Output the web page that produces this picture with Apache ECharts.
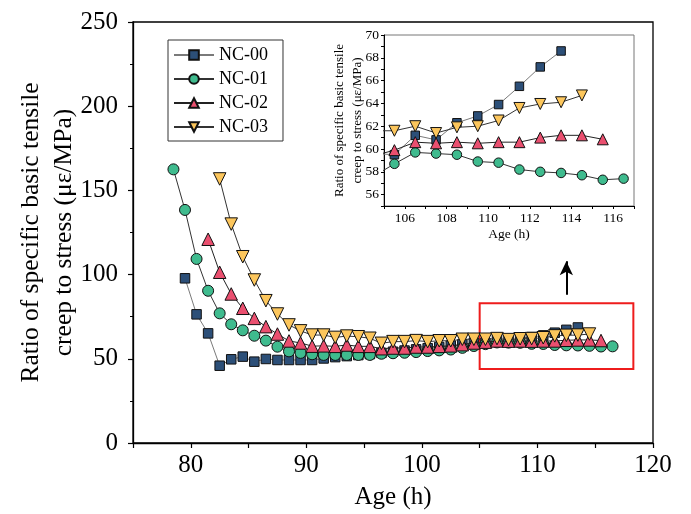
<!DOCTYPE html>
<html>
<head>
<meta charset="utf-8">
<script src="https://cdn.jsdelivr.net/npm/echarts@6/dist/echarts.min.js"></script>
<style>
  html, body { margin: 0; padding: 0; background: #fff; }
  #chart { width: 691px; height: 514px; }
</style>
</head>
<body>
<div id="chart"></div>
<script>
// Creep-to-stress ratio (με/MPa) against concrete age (h), four mixes.
const seriesNames = ['NC-00', 'NC-01', 'NC-02', 'NC-03'];

const ageNC00 = [79.5, 80.5, 81.5, 82.5, 83.5, 84.5, 85.5, 86.5, 87.5, 88.5, 89.5, 90.5, 91.5, 92.5, 93.5, 94.5, 95.5, 96.5,
  97.5, 98.5, 99.5, 100.5, 101.5, 102.5, 103.5, 104.5, 105.5, 106.5, 107.5, 108.5, 109.5, 110.5, 111.5, 112.5, 113.5];
const valNC00 = [97.8, 76.4, 65.1, 45.9, 49.7, 51.3, 48.3, 49.9, 49.3, 49.3, 49.3, 49.3, 50.2, 51.0, 51.6, 52.2, 52.8, 53.5,
  54.2, 54.9, 55.6, 56.3, 57.0, 57.8, 58.6, 59.6, 59.5, 61.2, 60.8, 62.3, 62.9, 63.9, 65.5, 67.2, 68.6];

const ageNC01 = [78.5, 79.5, 80.5, 81.5, 82.5, 83.5, 84.5, 85.5, 86.5, 87.5, 88.5, 89.5, 90.5, 91.5, 92.5, 93.5, 94.5, 95.5,
  96.5, 97.5, 98.5, 99.5, 100.5, 101.5, 102.5, 103.5, 104.5, 105.5, 106.5, 107.5, 108.5, 109.5, 110.5, 111.5, 112.5, 113.5,
  114.5, 115.5, 116.5];
const valNC01 = [162.5, 138.4, 109.3, 90.4, 77.0, 70.5, 66.9, 63.7, 60.8, 57.2, 54.4, 53.5, 52.7, 52.3, 52.3, 52.3, 52.3, 52.3,
  53.0, 53.3, 53.6, 54.0, 54.6, 55.0, 55.5, 56.5, 57.6, 58.7, 59.7, 59.6, 59.5, 58.9, 58.8, 58.2, 58.0, 57.9,
  57.7, 57.3, 57.4];

const ageNC02 = [81.5, 82.5, 83.5, 84.5, 85.5, 86.5, 87.5, 88.5, 89.5, 90.5, 91.5, 92.5, 93.5, 94.5, 95.5, 96.5, 97.5, 98.5,
  99.5, 100.5, 101.5, 102.5, 103.5, 104.5, 105.5, 106.5, 107.5, 108.5, 109.5, 110.5, 111.5, 112.5, 113.5, 114.5, 115.5];
const valNC02 = [121.0, 101.4, 88.5, 80.0, 74.0, 69.1, 64.7, 60.6, 59.4, 57.5, 57.7, 57.4, 58.2, 57.4, 57.4, 56.0, 56.4, 56.4,
  57.0, 57.0, 57.4, 57.7, 58.4, 59.4, 59.9, 60.6, 60.5, 60.6, 60.5, 60.6, 60.6, 61.0, 61.2, 61.2, 60.85];

const ageNC03 = [82.5, 83.5, 84.5, 85.5, 86.5, 87.5, 88.5, 89.5, 90.5, 91.5, 92.5, 93.5, 94.5, 95.5, 96.5, 97.5, 98.5,
  99.5, 100.5, 101.5, 102.5, 103.5, 104.5, 105.5, 106.5, 107.5, 108.5, 109.5, 110.5, 111.5, 112.5, 113.5, 114.5];
const valNC03 = [156.8, 130.0, 110.6, 96.8, 84.5, 76.6, 70.1, 66.6, 64.1, 64.1, 62.7, 63.5, 63.1, 62.2, 59.2, 60.2, 60.2,
  60.8, 60.2, 60.7, 60.7, 61.6, 61.6, 61.6, 62.0, 61.4, 61.9, 62.0, 62.5, 63.6, 63.95, 64.1, 64.7];

// Region enlarged in the inset (age h, ratio) and the pointer above it
const zoomBoxFrom = [105, 44];
const zoomBoxTo = [118.3, 83];
const pointerFrom = [112.5, 88];
const pointerTo = [112.5, 108];

const ages = [ageNC00, ageNC01, ageNC02, ageNC03];
const values = [valNC00, valNC01, valNC02, valNC03];

const FONT = '"Liberation Serif", "Times New Roman", serif';
const styles = [
  { fill: '#2c4f78', line: '#7a7a7a', symbol: 'rect', rotate: 0, size: 9.5, insetSize: 8.5 },
  { fill: '#3fbb8e', line: '#333333', symbol: 'circle', rotate: 0, size: 11, insetSize: 9.5 },
  { fill: '#ea4f6f', line: '#222222', symbol: 'triangle', rotate: 0, size: 12.5, insetSize: 11 },
  { fill: '#fcc65c', line: '#333333', symbol: 'triangle', rotate: 180, size: 12.5, insetSize: 11 }
];

function pairs(i) {
  return ages[i].map((a, k) => [a, values[i][k]]);
}

function makeSeries(i, inset) {
  const st = styles[i];
  const s = {
    name: seriesNames[i],
    type: 'line',
    xAxisIndex: inset ? 1 : 0,
    yAxisIndex: inset ? 1 : 0,
    data: pairs(i),
    symbol: st.symbol,
    symbolRotate: st.rotate,
    symbolSize: inset ? st.insetSize : st.size,
    showAllSymbol: true,
    clip: true,
    lineStyle: { color: st.line, width: 1 },
    itemStyle: { color: st.fill, borderColor: '#111', borderWidth: 1 },
    emphasis: { disabled: true },
    animation: false,
    z: 3 + i
  };
  if (!inset && i === 1) {
    s.markArea = {
      silent: true,
      itemStyle: { color: 'rgba(0,0,0,0)', borderColor: '#ee1c1c', borderWidth: 2 },
      label: { show: false },
      data: [[{ coord: zoomBoxFrom }, { coord: zoomBoxTo }]]
    };
    s.markLine = {
      silent: true,
      symbol: ['none', 'arrow'],
      symbolSize: [10, 14],
      lineStyle: { color: '#000', width: 2, type: 'solid' },
      label: { show: false },
      data: [[{ coord: pointerFrom }, { coord: pointerTo }]]
    };
  }
  return s;
}

const series = [];
for (let i = 0; i < 4; i++) series.push(makeSeries(i, false));
for (let i = 0; i < 4; i++) series.push(makeSeries(i, true));

const option = {
  backgroundColor: '#fff',
  animation: false,
  textStyle: { fontFamily: FONT },
  legend: {
    data: seriesNames,
    orient: 'vertical',
    left: 168,
    top: 40,
    itemWidth: 40,
    itemHeight: 12,
    itemGap: 6,
    padding: [6, 15, 5, 5],
    borderColor: '#333',
    borderWidth: 1,
    textStyle: { fontFamily: FONT, fontSize: 18, color: '#000' },
    selectedMode: false
  },
  grid: [
    { left: 133, top: 22, right: 38, bottom: 71, show: true, borderColor: '#000', borderWidth: 1.3,
      backgroundColor: 'transparent', containLabel: false, outerBoundsMode: 'none' },
    { left: 384, top: 35, right: 57, bottom: 308, show: true, borderColor: '#777', borderWidth: 1,
      backgroundColor: 'transparent', containLabel: false, outerBoundsMode: 'none' }
  ],
  xAxis: [
    {
      type: 'value', gridIndex: 0, min: 75, max: 120, interval: 5,
      name: 'Age (h)', nameLocation: 'middle', nameGap: 42, nameMoveOverlap: false,
      nameTextStyle: { fontFamily: FONT, fontSize: 25, color: '#000' },
      axisLine: { lineStyle: { color: '#000', width: 1.3 } },
      axisTick: { length: 5, lineStyle: { color: '#000', width: 1.2 } },
      axisLabel: { fontFamily: FONT, fontSize: 25, color: '#000', margin: 10,
        formatter: v => (v % 10 === 0 ? String(v) : '') },
      splitLine: { show: false }
    },
    {
      type: 'value', gridIndex: 1, min: 105, max: 117, interval: 1,
      name: 'Age (h)', nameLocation: 'middle', nameGap: 21, nameMoveOverlap: false,
      nameTextStyle: { fontFamily: FONT, fontSize: 13.5, color: '#000' },
      axisLine: { lineStyle: { color: '#000', width: 1 } },
      axisTick: { length: 3, lineStyle: { color: '#000', width: 1 } },
      axisLabel: { fontFamily: FONT, fontSize: 13.5, color: '#000', margin: 5,
        formatter: v => (v % 2 === 0 ? String(v) : '') },
      splitLine: { show: false }
    }
  ],
  yAxis: [
    {
      type: 'value', gridIndex: 0, min: 0, max: 250, interval: 50,
      name: 'Ratio of specific basic tensile\ncreep to stress (με/MPa)',
      nameLocation: 'middle', nameGap: 52, nameMoveOverlap: false,
      nameTextStyle: { fontFamily: FONT, fontSize: 25.5, color: '#000', lineHeight: 33 },
      axisLine: { lineStyle: { color: '#000', width: 1.3 } },
      axisTick: { length: 5, lineStyle: { color: '#000', width: 1.2 } },
      minorTick: { show: true, splitNumber: 2, length: 3, lineStyle: { color: '#000', width: 1 } },
      axisLabel: { fontFamily: FONT, fontSize: 25, color: '#000', margin: 15 },
      splitLine: { show: false },
      minorSplitLine: { show: false }
    },
    {
      type: 'value', gridIndex: 1, min: 55, max: 70, interval: 1,
      name: 'Ratio of specific basic tensile\ncreep to stress (με/MPa)',
      nameLocation: 'middle', nameGap: 17, nameMoveOverlap: false,
      nameTextStyle: { fontFamily: FONT, fontSize: 13, color: '#000', lineHeight: 18 },
      axisLine: { lineStyle: { color: '#000', width: 1 } },
      axisTick: { length: 3, lineStyle: { color: '#000', width: 1 } },
      axisLabel: { fontFamily: FONT, fontSize: 13.5, color: '#000', margin: 5,
        formatter: v => (v % 2 === 0 ? String(v) : '') },
      splitLine: { show: false }
    }
  ],
  series: series
};

const chart = echarts.init(document.getElementById('chart'), null, { renderer: 'canvas' });
chart.setOption(option);
</script>
</body>
</html>
